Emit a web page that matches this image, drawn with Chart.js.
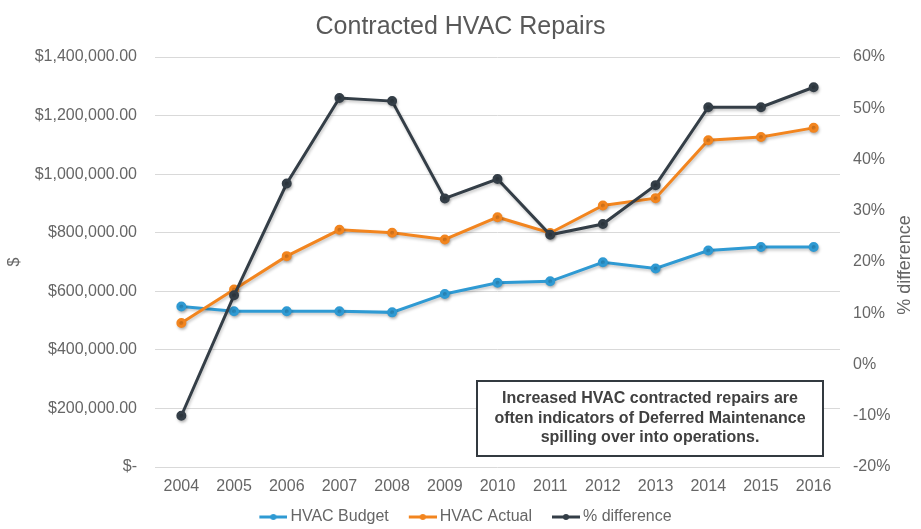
<!DOCTYPE html>
<html>
<head>
<meta charset="utf-8">
<script src="https://cdn.jsdelivr.net/npm/chart.js@4"></script>
<style>
html,body{margin:0;padding:0;background:#fff;}
#wrap{position:relative;width:921px;height:529px;}
</style>
</head>
<body>
<div id="wrap"><canvas id="c" width="921" height="529"></canvas></div>
<script>
const years = ['2004','2005','2006','2007','2008','2009','2010','2011','2012','2013','2014','2015','2016'];
const hvacBudget = [548000, 532000, 532000, 532000, 528000, 591000, 629000, 634000, 699000, 678000, 739000, 751000, 751000];
const hvacActual = [492000, 606000, 720000, 810000, 800000, 777000, 853000, 799000, 893000, 918000, 1116000, 1127000, 1158000];
const pctDifference = [-10.0, 13.5, 35.3, 52.0, 51.4, 32.4, 36.2, 25.3, 27.4, 35.0, 50.2, 50.2, 54.1];
const noteLines = ['Increased HVAC contracted repairs are', 'often indicators of Deferred Maintenance', 'spilling over into operations.'];
const rightAxisTitle = '% difference';

const C_BUDGET = '#2f9ad3';
const C_ACTUAL = '#f2851f';
const C_DIFF = '#343e47';
const C_TEXT = '#666666';
const FONT = "'Liberation Sans', Arial, sans-serif";

function legendIcon(color){
  const cv = document.createElement('canvas');
  cv.width = 43; cv.height = 10;
  const g = cv.getContext('2d');
  g.strokeStyle = color; g.lineWidth = 3;
  g.beginPath(); g.moveTo(15,5); g.lineTo(43,5); g.stroke();
  g.fillStyle = color;
  g.beginPath(); g.arc(29,5,3,0,Math.PI*2); g.fill();
  return cv;
}

function fmtMoney(v){
  if (v === 0) return '$-';
  return '$' + v.toLocaleString('en-US',{minimumFractionDigits:2, maximumFractionDigits:2});
}

const shadowPlugin = {
  id:'shadow',
  beforeDatasetsDraw(chart){
    const ctx = chart.ctx; ctx.save();
    ctx.shadowColor = 'rgba(0,0,0,0.22)'; ctx.shadowBlur = 3; ctx.shadowOffsetX = 1; ctx.shadowOffsetY = 2;
  },
  afterDatasetsDraw(chart){ chart.ctx.restore(); }
};

const rightTitlePlugin = {
  id:'rightTitle',
  afterDraw(chart){
    const ctx = chart.ctx;
    const s = chart.scales.y1;
    const a = chart.chartArea;
    ctx.save();
    ctx.translate(s.right - 11, (a.top + a.bottom) / 2 + 3);
    ctx.rotate(-Math.PI / 2);
    ctx.fillStyle = C_TEXT;
    ctx.font = "18px " + FONT;
    ctx.textAlign = 'center';
    ctx.textBaseline = 'middle';
    ctx.fillText(rightAxisTitle, 0, 0);
    ctx.restore();
  }
};

const notePlugin = {
  id:'note',
  afterDraw(chart){
    const ctx = chart.ctx;
    const a = chart.chartArea;
    const w = 346, h = 75;
    const x = a.right - 17 - w;
    const y = a.bottom - 86;
    ctx.save();
    ctx.fillStyle = '#ffffff';
    ctx.fillRect(x, y, w, h);
    ctx.lineWidth = 2;
    ctx.strokeStyle = '#333a40';
    ctx.strokeRect(x, y, w, h);
    ctx.fillStyle = '#404040';
    ctx.font = "bold 16px " + FONT;
    ctx.textAlign = 'center';
    ctx.textBaseline = 'middle';
    noteLines.forEach((t,i)=> ctx.fillText(t, x + w/2, y + h/2 + (i-1)*19.5));
    ctx.restore();
  }
};

new Chart(document.getElementById('c'), {
  type:'line',
  data:{
    labels: years,
    datasets:[
      {label:'HVAC Budget', data:hvacBudget, yAxisID:'y', borderColor:C_BUDGET, backgroundColor:C_BUDGET, borderWidth:3, pointRadius:3.5, pointHoverRadius:3.5, order:3, tension:0},
      {label:'HVAC Actual', data:hvacActual, yAxisID:'y', borderColor:C_ACTUAL, backgroundColor:C_ACTUAL, borderWidth:3, pointRadius:3.5, pointHoverRadius:3.5, order:2, tension:0},
      {label:'% difference', data:pctDifference, yAxisID:'y1', borderColor:C_DIFF, backgroundColor:C_DIFF, borderWidth:3, pointRadius:3.5, pointHoverRadius:3.5, order:1, tension:0}
    ]
  },
  options:{
    responsive:false,
    animation:false,
    layout:{padding:{left:5, right:5, top:12, bottom:-6}},
    plugins:{
      title:{display:true, text:'Contracted HVAC Repairs', color:'#595959', font:{family:FONT, size:25, weight:'normal'}, padding:{top:0, bottom:15}},
      legend:{
        position:'bottom',
        labels:{
          color:C_TEXT, font:{family:FONT, size:16}, usePointStyle:true, pointStyleWidth:33, boxHeight:10, padding:10,
          generateLabels(chart){
            return chart.data.datasets.map((ds,i)=>({
              text: ds.label, fillStyle: ds.borderColor, strokeStyle: ds.borderColor, lineWidth:0,
              pointStyle: legendIcon(ds.borderColor), datasetIndex:i, hidden:false, fontColor:C_TEXT
            }));
          }
        }
      },
      tooltip:{enabled:false}
    },
    scales:{
      x:{
        offset:true,
        grid:{display:false, drawTicks:false},
        border:{display:false},
        ticks:{color:C_TEXT, font:{family:FONT, size:16}, padding:10},
        afterFit(scale){ scale.height = 32; }
      },
      y:{
        position:'left', min:0, max:1400000,
        ticks:{stepSize:200000, color:C_TEXT, font:{family:FONT, size:16}, padding:18, callback:(v)=>fmtMoney(v)},
        grid:{color:'#d9d9d9', drawTicks:false},
        border:{display:false},
        title:{display:true, text:'$', color:C_TEXT, font:{family:FONT, size:16}, padding:{top:0,bottom:0}},
        afterFit(scale){ scale.width = 150; }
      },
      y1:{
        position:'right', min:-20, max:60,
        ticks:{stepSize:10, color:C_TEXT, font:{family:FONT, size:16}, padding:13, callback:(v)=>v+'%'},
        grid:{drawOnChartArea:false, display:false, drawTicks:false},
        border:{display:false},
        title:{display:false},
        afterFit(scale){ scale.width = 76; }
      }
    }
  },
  plugins:[shadowPlugin, notePlugin, rightTitlePlugin]
});
</script>
</body>
</html>
